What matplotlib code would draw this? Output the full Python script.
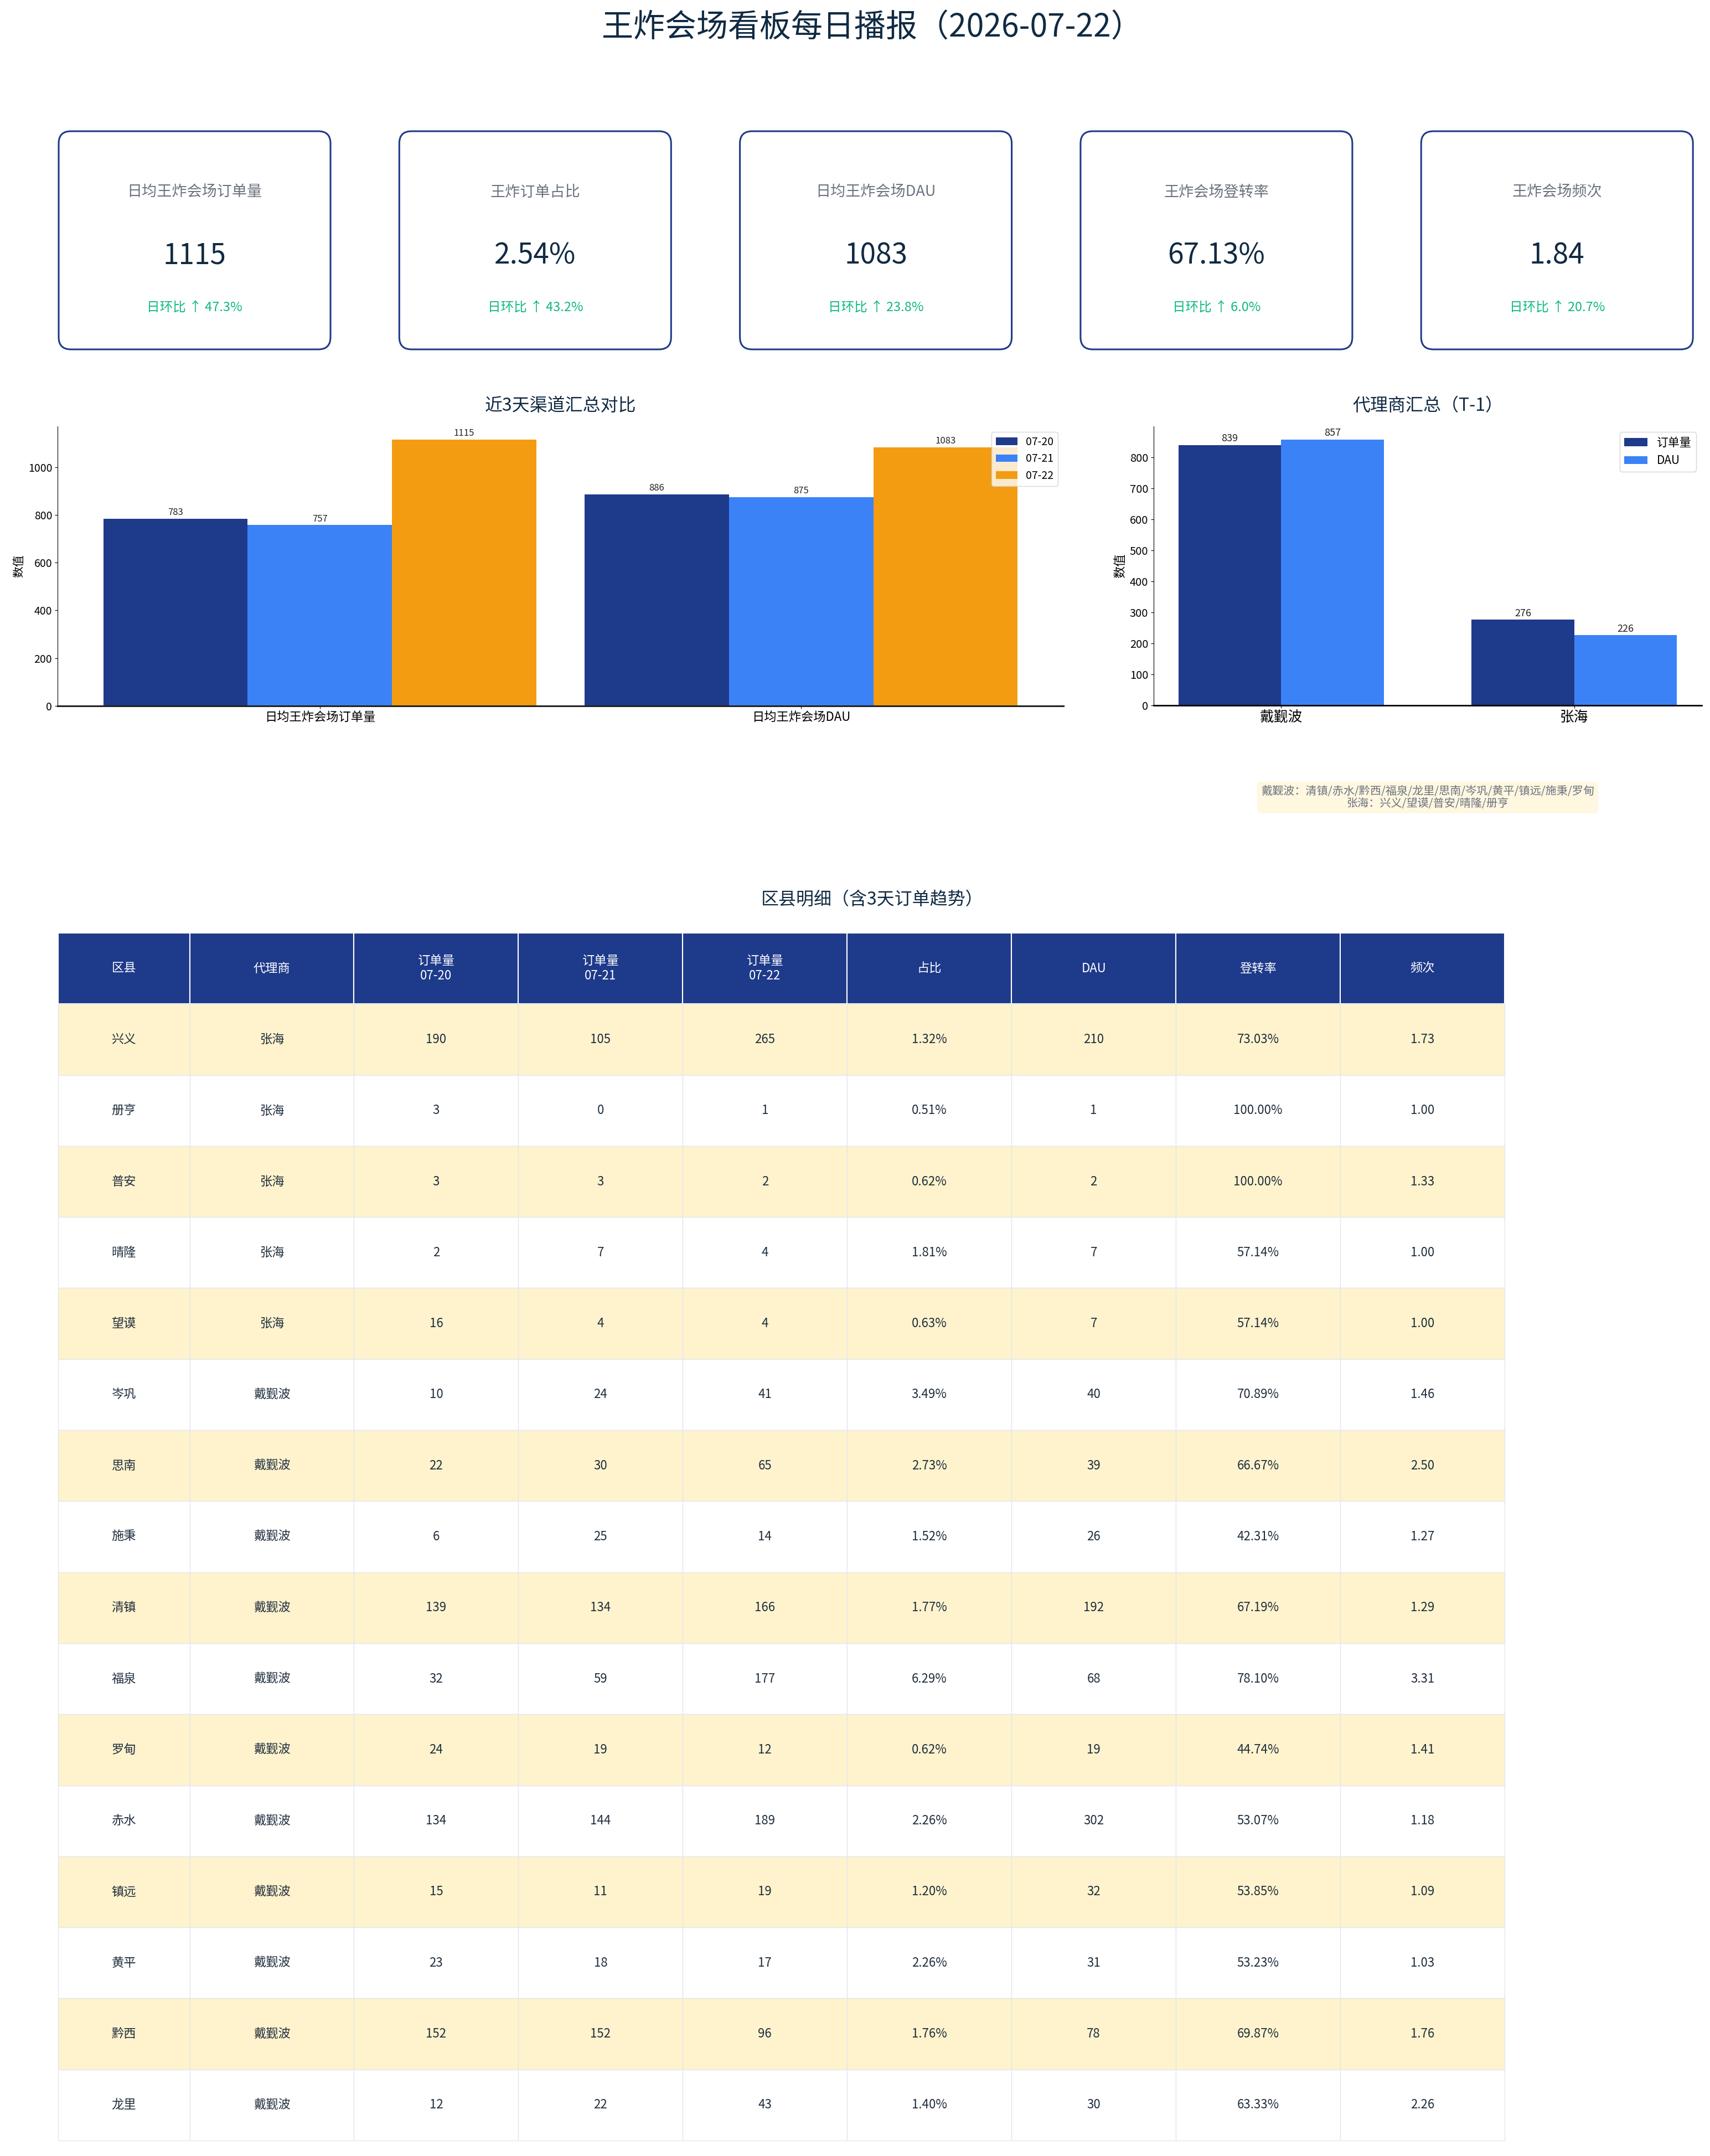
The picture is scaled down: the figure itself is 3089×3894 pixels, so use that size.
import matplotlib
matplotlib.use('Agg')
import matplotlib.pyplot as plt
from matplotlib.patches import FancyBboxPatch
import numpy as np

plt.rcParams['font.family'] = ['Noto Sans CJK SC', 'DejaVu Sans']
plt.rcParams['axes.unicode_minus'] = False

# ---- dati ----
main_title = '王炸会场看板每日播报（2026-07-22）'

kpi_names = ['日均王炸会场订单量', '王炸订单占比', '日均王炸会场DAU', '王炸会场登转率', '王炸会场频次']
kpi_values = ['1115', '2.54%', '1083', '67.13%', '1.84']
kpi_changes = [47.3, 43.2, 23.8, 6.0, 20.7]

days = ['07-20', '07-21', '07-22']
metric_names = ['日均王炸会场订单量', '日均王炸会场DAU']
orders_3d = [783, 757, 1115]
dau_3d = [886, 875, 1083]

agents = ['戴觐波', '张海']
agent_orders = [839, 276]
agent_dau = [857, 226]
agent_note = '戴觐波：清镇/赤水/黔西/福泉/龙里/思南/岑巩/黄平/镇远/施秉/罗甸\n张海：兴义/望谟/普安/晴隆/册亨'

counties = ['兴义', '册亨', '普安', '晴隆', '望谟', '岑巩', '思南', '施秉',
            '清镇', '福泉', '罗甸', '赤水', '镇远', '黄平', '黔西', '龙里']
county_agent = ['张海'] * 5 + ['戴觐波'] * 11
orders_0720 = [190, 3, 3, 2, 16, 10, 22, 6, 139, 32, 24, 134, 15, 23, 152, 12]
orders_0721 = [105, 0, 3, 7, 4, 24, 30, 25, 134, 59, 19, 144, 11, 18, 152, 22]
orders_0722 = [265, 1, 2, 4, 4, 41, 65, 14, 166, 177, 12, 189, 19, 17, 96, 43]
share = [1.32, 0.51, 0.62, 1.81, 0.63, 3.49, 2.73, 1.52, 1.77, 6.29, 0.62, 2.26, 1.20, 2.26, 1.76, 1.40]
county_dau = [210, 1, 2, 7, 7, 40, 39, 26, 192, 68, 19, 302, 32, 31, 78, 30]
conv_rate = [73.03, 100.00, 100.00, 57.14, 57.14, 70.89, 66.67, 42.31, 67.19, 78.10,
             44.74, 53.07, 53.85, 53.23, 69.87, 63.33]
freq = [1.73, 1.00, 1.33, 1.00, 1.00, 1.46, 2.50, 1.27, 1.29, 3.31, 1.41, 1.18, 1.09, 1.03, 1.76, 2.26]

# colori
navy = '#1e3a8a'
blue = '#3b82f6'
orange = '#f39c12'
dark = '#102a43'
amber = '#fef3cd'

W, H = 3089, 3894
fig = plt.figure(figsize=(W / 100, H / 100), dpi=100)

fig.text(0.51, 1 - 50 / H, main_title, ha='center', va='center', fontsize=41, color=dark)

# ---- schede KPI ----
axc = fig.add_axes([0, 1 - 645 / H, 1, 420 / H])
axc.set_xlim(0, W)
axc.set_ylim(645, 225)
axc.axis('off')
for i in range(len(kpi_names)):
    x0 = 106 + i * 615.3
    card = FancyBboxPatch((x0, 237), 491, 394, boxstyle='round,pad=0,rounding_size=22',
                          facecolor='white', edgecolor=navy, linewidth=2.2)
    axc.add_patch(card)
    cx = x0 + 245.5
    axc.text(cx, 347, kpi_names[i], ha='center', va='center', fontsize=19.5, color='#6b7280')
    axc.text(cx, 462, kpi_values[i], ha='center', va='center', fontsize=37, color=dark)
    axc.text(cx, 556, f'日环比 ↑ {kpi_changes[i]:.1f}%', ha='center', va='center',
             fontsize=17, color='#10b981')

# ---- grafico 3 giorni ----
ax1 = fig.add_axes([104 / W, 1 - 1275 / H, 1817 / W, 505 / H])
x = np.arange(len(metric_names))
w = 0.3
cols = [navy, blue, orange]
for i, d in enumerate(days):
    vals = [orders_3d[i], dau_3d[i]]
    bars = ax1.bar(x + (i - 1) * w, vals, w, color=cols[i], label=d)
    ax1.bar_label(bars, fontsize=12, padding=2, color='#222222')
ax1.set_xticks(x)
ax1.set_xticklabels(metric_names, fontsize=16)
ax1.tick_params(axis='y', labelsize=14)
ax1.set_ylabel('数值', fontsize=15)
ax1.set_title('近3天渠道汇总对比', fontsize=23, color=dark, pad=20)
ax1.legend(loc='upper right', fontsize=14)
ax1.spines['top'].set_visible(False)
ax1.spines['right'].set_visible(False)
ax1.spines['bottom'].set_linewidth(2.2)
ax1.spines['bottom'].set_color('#222222')

# ---- grafico agenti ----
ax2 = fig.add_axes([2084 / W, 1 - 1274 / H, 990 / W, 504 / H])
x = np.arange(len(agents))
w = 0.35
b1 = ax2.bar(x - w / 2, agent_orders, w, color=navy, label='订单量')
b2 = ax2.bar(x + w / 2, agent_dau, w, color=blue, label='DAU')
ax2.bar_label(b1, fontsize=13, padding=2, color='#222222')
ax2.bar_label(b2, fontsize=13, padding=2, color='#222222')
ax2.set_xticks(x)
ax2.set_xticklabels(agents, fontsize=18.5)
ax2.set_yticks(np.arange(0, 900, 100))
ax2.tick_params(axis='y', labelsize=14.5)
ax2.set_ylabel('数值', fontsize=16)
ax2.set_title('代理商汇总（T-1）', fontsize=23, color=dark, pad=20)
ax2.legend(loc='upper right', fontsize=15)
ax2.spines['top'].set_visible(False)
ax2.spines['right'].set_visible(False)
ax2.spines['bottom'].set_linewidth(2)
ax2.text(0.5, -0.33, agent_note, transform=ax2.transAxes, ha='center', va='center',
         fontsize=14.5, color='#6b7280', linespacing=1.05,
         bbox=dict(boxstyle='round,pad=0.35', facecolor='#fff7e0', edgecolor='none'))

# ---- tabella ----
fig.text(0.51, 1 - 1625 / H, '区县明细（含3天订单趋势）', ha='center', va='center',
         fontsize=23, color=dark)
axt = fig.add_axes([105 / W, 1 - 3866 / H, 2613 / W, 2181 / H])
axt.axis('off')
headers = ['区县', '代理商', '订单量\n07-20', '订单量\n07-21', '订单量\n07-22',
           '占比', 'DAU', '登转率', '频次']
rows = []
for k in range(len(counties)):
    rows.append([counties[k], county_agent[k], str(orders_0720[k]), str(orders_0721[k]),
                 str(orders_0722[k]), f'{share[k]:.2f}%', str(county_dau[k]),
                 f'{conv_rate[k]:.2f}%', f'{freq[k]:.2f}'])
cw = np.array([0.8] + [1.0] * 8)
tbl = axt.table(cellText=rows, colLabels=headers, colWidths=list(cw / cw.sum()),
                cellLoc='center', bbox=[0, 0, 1, 1])
tbl.auto_set_font_size(False)
tbl.set_fontsize(16)
for (r, c), cell in tbl.get_celld().items():
    if r == 0:
        cell.set_facecolor(navy)
        cell.set_edgecolor('white')
        cell.set_linewidth(1.5)
        cell.get_text().set_color('white')
    else:
        cell.set_facecolor(amber if r % 2 == 1 else 'white')
        cell.set_edgecolor('#e5e7eb')
        cell.set_linewidth(1)
        cell.get_text().set_color('#1f2d3d')

fig.savefig('out.png', dpi=100, facecolor='white')
